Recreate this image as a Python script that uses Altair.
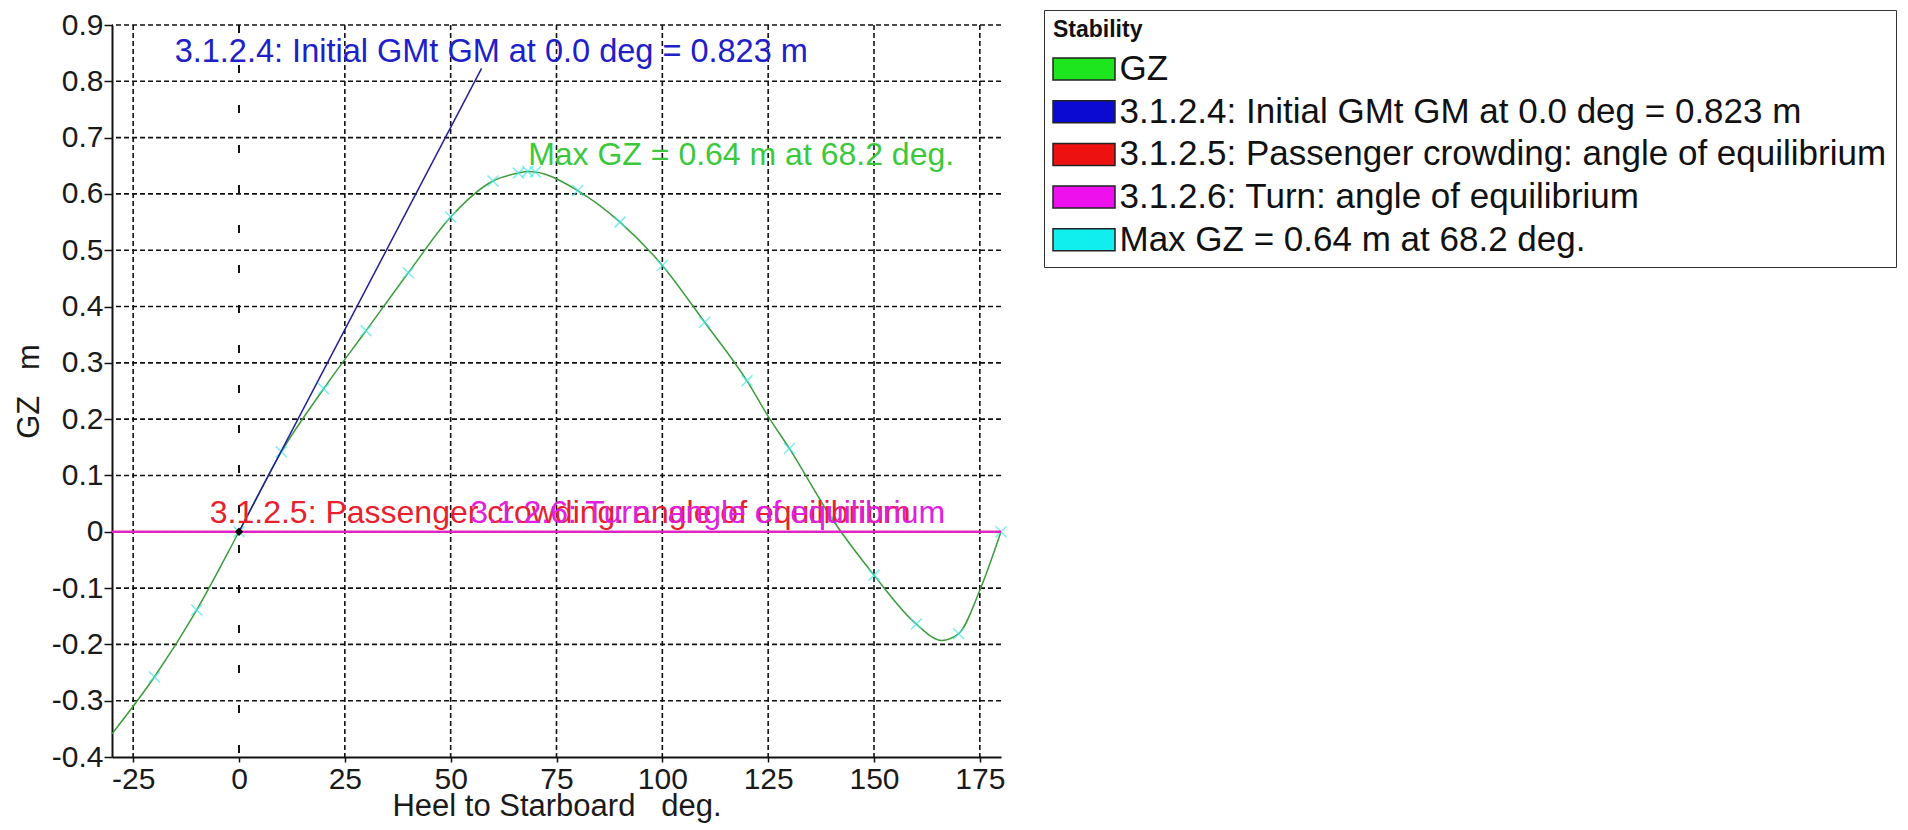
import altair as alt
import pandas as pd

FONT = "Liberation Sans"

# ---- data ----
x_ticks = [-25, 0, 25, 50, 75, 100, 125, 150, 175]
y_ticks = [-0.4, -0.3, -0.2, -0.1, 0.0, 0.1, 0.2, 0.3, 0.4, 0.5, 0.6, 0.7, 0.8, 0.9]

heel = [-30, -20, -10, 0, 10, 20, 30, 40, 50, 60, 66, 68.2, 70, 80, 90, 100,
        110, 120, 125, 130, 140, 150, 160, 166, 170, 175, 180]
gz = [-0.359, -0.258, -0.139, 0.0, 0.142, 0.254, 0.357, 0.460, 0.559, 0.623, 0.637, 0.640,
      0.639, 0.606, 0.550, 0.473, 0.372, 0.268, 0.205, 0.148, 0.024, -0.077, -0.164,
      -0.193, -0.181, -0.104, 0.0]

marker_heel = [-20, -10, 0, 10, 20, 30, 40, 50, 60, 66, 68.2, 70, 80, 90, 100, 110,
               120, 130, 140, 150, 160, 170, 180]

gm_heel = [0, 57.3]
gm_gz = [0, 0.823]

series = [
    "GZ",
    "3.1.2.4: Initial GMt GM at 0.0 deg = 0.823 m",
    "3.1.2.5: Passenger crowding: angle of equilibrium",
    "3.1.2.6: Turn: angle of equilibrium",
    "Max GZ = 0.64 m at 68.2 deg.",
]
series_colors = ["#1ee61e", "#0a0ad2", "#ee1111", "#ee11ee", "#11eeee"]

# annotations: text, heel, gz
ann_gm = ("3.1.2.4: Initial GMt GM at 0.0 deg = 0.823 m", -15.2, 0.823)
ann_max = ("Max GZ = 0.64 m at 68.2 deg.", 68.3, 0.64)
ann_pc = ("3.1.2.5: Passenger crowding: angle of equilibrium", -6.9, 0.0)
ann_turn = ("3.1.2.6: Turn: angle of equilibrium", 54.6, 0.0)

# ---- tables ----
curve_df = pd.DataFrame({"heel": heel, "gz": gz})
lookup = dict(zip(heel, gz))
marker_df = pd.DataFrame({"heel": marker_heel, "gz": [lookup[h] for h in marker_heel]})
gm_df = pd.DataFrame({"heel": gm_heel, "gz": gm_gz})
vgrid_df = pd.DataFrame({"heel": [v for v in x_ticks if v != 0]})
zero_df = pd.DataFrame({"heel": [0]})
hgrid_df = pd.DataFrame({"gz": y_ticks[1:]})
zline_df = pd.DataFrame({"gz": [0.0]})
origin_df = pd.DataFrame({"heel": [0], "gz": [0.0]})
legend_df = pd.DataFrame({"series": series})

XS = alt.Scale(domain=[-30, 180], nice=False, zero=False)
YS = alt.Scale(domain=[-0.4, 0.9], nice=False, zero=False)

x_axis = alt.Axis(
    values=x_ticks, title="Heel to Starboard\u00a0\u00a0\u00a0deg.", grid=False,
    labelExpr="(datum.value < 0 ? '-' : '') + format(abs(datum.value), 'd')",
    tickSize=5, tickColor="#111", tickWidth=1.5, domainColor="#111", domainWidth=2,
    labelFont=FONT, labelFontSize=30, labelColor="#1a1a1a", labelPadding=2,
    labelFlush=False, labelOverlap=False,
    titleFont=FONT, titleFontSize=31, titleFontWeight="normal", titleColor="#1a1a1a",
    titlePadding=-3,
)
y_axis = alt.Axis(
    values=y_ticks, title="GZ\u00a0\u00a0\u00a0m", grid=False,
    labelExpr="(datum.value < 0 ? '-' : '') + format(abs(datum.value), '.1~f')",
    tickSize=8, tickColor="#111", tickWidth=1.5, domainColor="#111", domainWidth=2,
    labelFont=FONT, labelFontSize=30, labelColor="#1a1a1a", labelPadding=1,
    labelFlush=False, labelOverlap=False,
    titleFont=FONT, titleFontSize=31, titleFontWeight="normal", titleColor="#1a1a1a",
    titlePadding=6,
)

X = lambda: alt.X("heel:Q", scale=XS)
Y = lambda: alt.Y("gz:Q", scale=YS)

# grid layers carry the axes (first layers using each channel)
vgrid = alt.Chart(vgrid_df).mark_rule(color="#111", strokeWidth=1.6, strokeDash=[5, 3]).encode(
    x=alt.X("heel:Q", scale=XS, axis=x_axis))
hgrid = alt.Chart(hgrid_df).mark_rule(color="#111", strokeWidth=1.6, strokeDash=[5, 3]).encode(
    y=alt.Y("gz:Q", scale=YS, axis=y_axis))
zero_v = alt.Chart(zero_df).mark_rule(color="#111", strokeWidth=2, strokeDash=[8, 32]).encode(x=X())

red_line = alt.Chart(zline_df).mark_rule(color="#ee1111", strokeWidth=2).encode(y=Y())
mag_line = alt.Chart(zline_df).mark_rule(color="#e020e0", strokeWidth=2).encode(y=Y())

curve = alt.Chart(curve_df).mark_line(interpolate="monotone", color="#3c9c3c", strokeWidth=1.5).encode(
    x=X(), y=Y())
markers = alt.Chart(marker_df).mark_point(
    shape="M-1,-1L1,1M-1,1L1,-1", size=120, color="#44e8e8", strokeWidth=1.5, filled=False
).encode(x=X(), y=Y())

gm_line = alt.Chart(gm_df).mark_line(color="#20209a", strokeWidth=1.5).encode(x=X(), y=Y())


def label(ann, color, dy, size=32):
    df = pd.DataFrame({"t": [ann[0]], "heel": [ann[1]], "gz": [ann[2]]})
    return alt.Chart(df).mark_text(
        align="left", baseline="alphabetic", dy=dy, color=color, font=FONT, fontSize=size
    ).encode(x=X(), y=Y(), text="t:N")


t_gm = label(ann_gm, "#2020c8", -6, 32.5)
t_max = label(ann_max, "#3cc83c", -6)
t_pc = label(ann_pc, "#e8202e", -9)
t_turn = label(ann_turn, "#e020e0", -9)

origin = alt.Chart(origin_df).mark_point(shape="diamond", filled=True, color="black", size=70, opacity=1).encode(
    x=X(), y=Y())

legend_layer = alt.Chart(legend_df).mark_point(filled=True, opacity=0).encode(
    fill=alt.Fill(
        "series:N",
        scale=alt.Scale(domain=series, range=series_colors),
        legend=alt.Legend(
            title="Stability", orient="none", legendX=932, legendY=-15, direction="vertical",
            titleFont=FONT, titleFontSize=23, titleFontWeight="bold", titleColor="#111",
            titlePadding=9.5,
            labelFont=FONT, labelFontSize=35, labelColor="#111", labelLimit=1500, labelOffset=18,
            symbolType="M-6.2,-2.2L6.2,-2.2L6.2,2.2L-6.2,2.2Z", symbolSize=100, symbolOffset=13.5,
            symbolStrokeColor="#222", symbolStrokeWidth=1.5, symbolOpacity=1,
            rowPadding=6.7, padding=9, strokeColor="#333", fillColor="white", cornerRadius=0,
        ),
    )
)

chart = alt.layer(
    vgrid, hgrid, zero_v, curve, markers, red_line, mag_line, gm_line,
    t_gm, t_max, t_pc, t_turn, origin, legend_layer,
).properties(
    width=889, height=732,
    autosize=alt.AutoSizeParams(type="none"),
    padding={"left": 112, "top": 25, "right": 907, "bottom": 73},
    background="white",
).configure_view(stroke=None)

chart.save("out.html", embed_options={"renderer": "svg", "actions": False})
